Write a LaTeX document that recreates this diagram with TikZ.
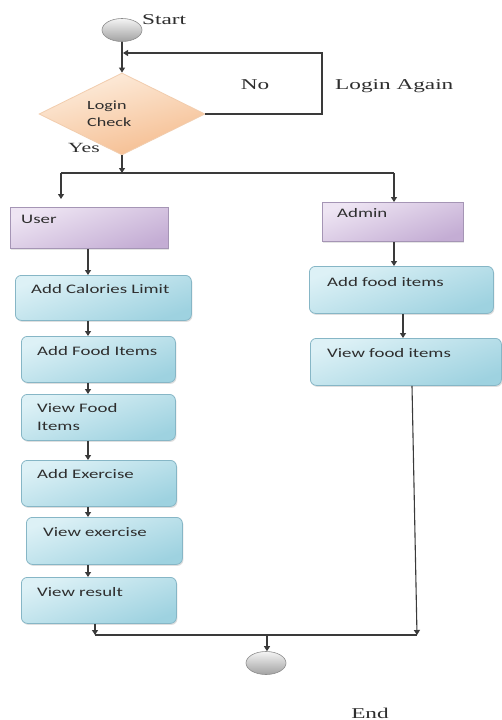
\documentclass[tikz,border=0pt]{standalone}
\usepackage{fontspec}
\newfontfamily\boxfont[FakeStretch=1.45]{Carlito}
\newfontfamily\serfont[FakeStretch=1.55]{Liberation Serif}
\usetikzlibrary{shapes.geometric,arrows.meta,shadows,calc}
\definecolor{linegray}{HTML}{3A3A3A}
\definecolor{txtgray}{HTML}{2E2E2E}
\definecolor{cyanlight}{HTML}{DDF1F6}
\definecolor{cyandark}{HTML}{9ED2E0}
\definecolor{cyanedge}{HTML}{86B6C6}
\definecolor{purplelight}{HTML}{EEE5F3}
\definecolor{purpledark}{HTML}{C4ADD4}
\definecolor{purpleedge}{HTML}{A595B5}
\definecolor{peachlight}{HTML}{FDEEDF}
\definecolor{peachdark}{HTML}{F5BC8E}
\definecolor{peachedge}{HTML}{F2CDAE}
\definecolor{graylight}{HTML}{F4F4F4}
\definecolor{graydark}{HTML}{A2A2A2}
\definecolor{grayedge}{HTML}{8C8C8C}
\begin{document}
\begin{tikzpicture}[x=1pt,y=-1pt,
  conn/.style={draw=linegray, line width=1.1pt},
  arr/.style={conn, -{Triangle[width=6pt,length=5pt]}},
  calbox/.style={rectangle, rounded corners=6pt, draw=cyanedge, line width=0.8pt,
    top color=cyanlight, bottom color=cyandark, shading angle=20,
    drop shadow={shadow xshift=1pt, shadow yshift=-1.5pt, opacity=0.25},
    inner sep=0pt, anchor=north west},
  rolebox/.style={rectangle, draw=purpleedge, line width=0.8pt,
    top color=purplelight, bottom color=purpledark, shading angle=20,
    drop shadow={shadow xshift=1pt, shadow yshift=-1.5pt, opacity=0.2},
    inner sep=0pt, anchor=north west},
  ball/.style={ellipse, draw=grayedge, line width=0.6pt, top color=graylight, bottom color=graydark,
    minimum width=40pt, minimum height=23pt, inner sep=0pt},
  btext/.style={anchor=base west, inner sep=0pt, text=txtgray, font=\boxfont\fontsize{13}{16}\selectfont},
  stext/.style={inner sep=0pt, text=txtgray, font=\serfont\fontsize{15}{18}\selectfont},
]
\useasboundingbox[fill=white] (0,0) rectangle (502,720);

% start / decision
\node[ball] (start) at (122,30) {};
\node[stext, anchor=base west] (tstart) at (142,24) {Start};
\node[diamond, aspect=2, draw=peachedge, line width=0.8pt, top color=peachlight, bottom color=peachdark,
  shading angle=15, minimum width=166pt, minimum height=82pt, inner sep=0pt] (lc) at (122,114) {};
\node[anchor=west, align=left, inner sep=0pt, text=txtgray, font=\boxfont\fontsize{12.5}{17}\selectfont] (tlc) at (87,114) {Login\\Check};
\node[stext, anchor=base] (tno) at (255,89) {No};
\node[stext, anchor=base west] (tagain) at (335,89) {Login Again};
\node[stext, anchor=base west, font=\serfont\fontsize{14}{17}\selectfont] (tyes) at (68,152) {Yes};

\coordinate (loopin) at (123,53);
\coordinate (looptop) at (322,53);
\draw[arr] (start.south) -- (lc.north);
\draw[arr] (lc.east) -| (looptop) -- (loopin);

% split
\coordinate (split) at (122,173);
\coordinate (sl) at (61,173);
\coordinate (sr) at (394,173);
\coordinate (uin) at (61,199);
\draw[arr] (lc.south) -- (split);
\draw[conn] (sl) -- (sr);

% user column
\node[rolebox, minimum width=158pt, minimum height=41pt] (user) at (10,207) {};
\node[btext] (tuser) at ($(user.north west)+(11,16)$) {User};
\node[calbox, minimum width=176pt, minimum height=45pt] (acl) at (15,275) {};
\node[btext] (tacl) at ($(acl.north west)+(16,18)$) {Add Calories Limit};
\node[calbox, minimum width=154pt, minimum height=46pt] (afi) at (21,336) {};
\node[btext] (tafi) at ($(afi.north west)+(16,19)$) {Add Food Items};
\node[calbox, minimum width=154pt, minimum height=46pt] (vfi) at (21,394) {};
\node[anchor=north west, align=left, inner sep=0pt, text=txtgray, font=\boxfont\fontsize{13}{18}\selectfont] (tvfi) at ($(vfi.north west)+(16,9)$) {View Food\\Items};
\node[calbox, minimum width=155pt, minimum height=46pt] (ae) at (21,460) {};
\node[btext] (tae) at ($(ae.north west)+(16,18)$) {Add Exercise};
\node[calbox, minimum width=156pt, minimum height=47pt] (ve) at (26,517) {};
\node[btext] (tve) at ($(ve.north west)+(17,19)$) {View exercise};
\node[calbox, minimum width=155pt, minimum height=46pt] (vr) at (21,577) {};
\node[btext] (tvr) at ($(vr.north west)+(16,19)$) {View result};

\coordinate (colL) at (88,0);
\draw[arr] (sl) -- (uin);
\draw[arr] (user.south -| colL) -- (acl.north -| colL);
\draw[arr] (acl.south -| colL) -- (afi.north -| colL);
\draw[arr] (afi.south -| colL) -- (vfi.north -| colL);
\draw[arr] (vfi.south -| colL) -- (ae.north -| colL);
\draw[arr] (ae.south -| colL) -- (ve.north -| colL);
\draw[arr] (ve.south -| colL) -- (vr.north -| colL);

% admin column
\node[rolebox, minimum width=141pt, minimum height=39pt] (admin) at (322,202) {};
\node[btext] (tadmin) at ($(admin.north west)+(15,15)$) {Admin};
\node[calbox, minimum width=184pt, minimum height=47pt] (afood) at (309,266) {};
\node[btext] (tafood) at ($(afood.north west)+(18,20)$) {Add food items};
\node[calbox, minimum width=191pt, minimum height=47pt] (vfood) at (310,338) {};
\node[btext] (tvfood) at ($(vfood.north west)+(17,19)$) {View food items};

\coordinate (colR1) at (394,0);
\coordinate (colR2) at (403,0);
\draw[arr] (sr) -- (sr |- admin.north);
\draw[arr] (admin.south -| colR1) -- (afood.north -| colR1);
\draw[arr] (afood.south -| colR2) -- (vfood.north -| colR2);

% join and end
\coordinate (bl) at (95,635);
\coordinate (rj) at (417,635);
\coordinate (bm) at (267,635);
\draw[conn] (bl) -- (rj);
\draw[arr] (vr.south -| bl) -- (bl);
\draw[arr] ($(vfood.south west)+(102,0)$) -- (rj);
\node[ball] (endn) at (266,663) {};
\draw[arr] (bm) -- (bm |- endn.north);
\node[stext, anchor=base] (tend) at (370,718) {End};
\end{tikzpicture}
\end{document}
